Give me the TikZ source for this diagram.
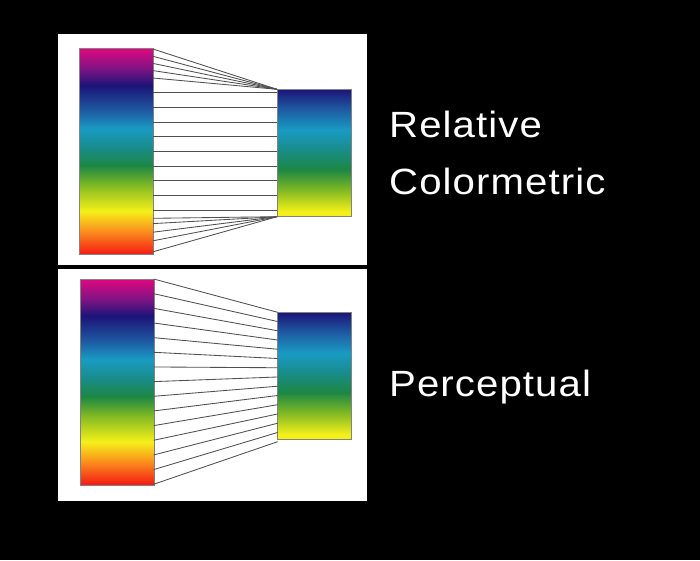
\documentclass[tikz,border=0pt]{standalone}
\usepackage{fontspec}
\newfontfamily\labelfont[LetterSpace=3,FakeStretch=1.1]{Liberation Sans}
\usetikzlibrary{calc}
\definecolor{cMag}{RGB}{224,8,128}
\definecolor{cPur}{RGB}{125,20,130}
\definecolor{cNavy}{RGB}{28,20,120}
\definecolor{cBlue}{RGB}{30,88,160}
\definecolor{cCyan}{RGB}{25,155,195}
\definecolor{cTeal}{RGB}{25,140,140}
\definecolor{cGreen}{RGB}{28,135,68}
\definecolor{cYG}{RGB}{135,188,35}
\definecolor{cYel}{RGB}{245,240,25}
\definecolor{cOra}{RGB}{250,150,30}
\definecolor{cRed}{RGB}{245,25,20}
\definecolor{lineGray}{RGB}{80,80,80}
\definecolor{edgeGray}{RGB}{130,130,130}
\pgfdeclareverticalshading{leftgrad}{100bp}{color(0bp)=(cRed); color(25bp)=(cRed); color(31bp)=(cOra); color(35.5bp)=(cYel); color(41.5bp)=(cYG); color(46.5bp)=(cGreen); color(51bp)=(cTeal); color(55.5bp)=(cCyan); color(60bp)=(cBlue); color(66bp)=(cNavy); color(70bp)=(cPur); color(75bp)=(cMag); color(100bp)=(cMag)}
\pgfdeclareverticalshading{rightgrad}{100bp}{color(0bp)=(cYel); color(25bp)=(cYel); color(27bp)=(cYel); color(35bp)=(cYG); color(43.5bp)=(cGreen); color(51.5bp)=(cTeal); color(59bp)=(cCyan); color(67.5bp)=(cBlue); color(75bp)=(cNavy); color(100bp)=(cNavy)}
\tikzset{
  panel/.style={fill=white, draw=none},
  leftbar/.style={rectangle, inner sep=0pt, outer sep=0pt, minimum width=74pt, minimum height=206pt, shade, shading=leftgrad, draw=edgeGray, line width=0.6pt, anchor=north west},
  rightbar/.style={rectangle, inner sep=0pt, outer sep=0pt, minimum width=74pt, minimum height=127.4pt, shade, shading=rightgrad, draw=edgeGray, line width=0.6pt, anchor=north west},
  mapline/.style={draw=lineGray, line width=0.85pt},
  label/.style={text=white, font=\labelfont\fontsize{36.5}{40}\selectfont, anchor=base west, inner sep=0pt}
}
\begin{document}
\begin{tikzpicture}[x=1pt,y=-1pt]
\useasboundingbox (0,0) rectangle (700,560);
\fill[black] (0,0) rectangle (700,560);
% panels
\path[panel] (58,34) rectangle (367,265);
\path[panel] (58,269) rectangle (367,501);
% top panel bars
\node[leftbar] (tl) at (79,48.3) {};
\node[rightbar] (tr) at (277,89.3) {};
% top panel lines
\foreach \y [count=\i] in {49,56.3,63.4,70.6,78} {
  \coordinate (ta\i) at (153,\y);
  \draw[mapline] (ta\i) -- (tr.north west);
}
\foreach \k in {0,...,8} {
  \coordinate (th\k) at (153,92.7+14.66*\k);
  \coordinate (tg\k) at (277,92.7+14.66*\k);
  \draw[mapline] (th\k) -- (tg\k);
}
\foreach \y [count=\i] in {218.3,223.6,232.2,240.8,251.8} {
  \coordinate (tb\i) at (153,\y);
  \draw[mapline] (tb\i) -- (tr.south west);
}
% bottom panel bars
\node[leftbar] (bl) at (80,279) {};
\node[rightbar] (br) at (277.7,312.3) {};
\foreach \k in {0,...,14} {
  \coordinate (bs\k) at (153.7,279+14.66*\k);
  \coordinate (be\k) at (277.7,312.3+9.24*\k);
  \draw[mapline] (bs\k) -- (be\k);
}
% labels
\node[label] (rel) at (389,137.7) {Relative};
\node[label] (col) at (389,194.3) {Colormetric};
\node[label] (per) at (389,396.7) {Perceptual};
\end{tikzpicture}
\end{document}
